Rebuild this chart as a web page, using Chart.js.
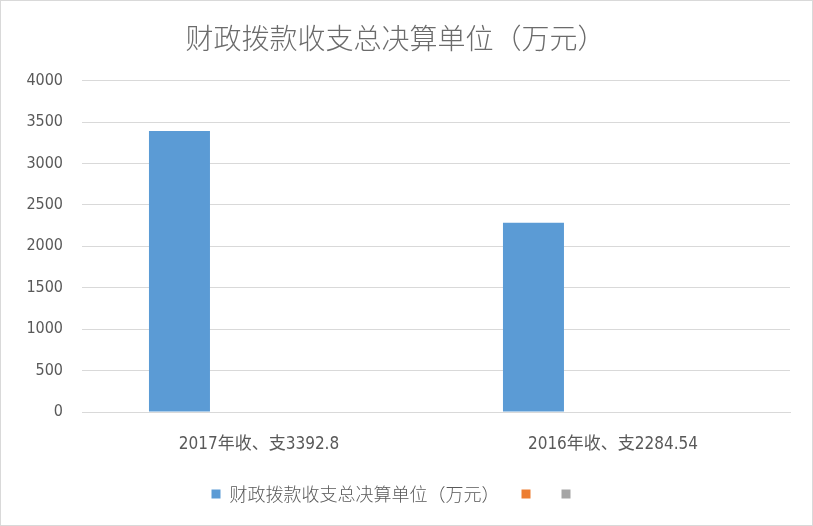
<!DOCTYPE html>
<html>
<head>
<meta charset="utf-8">
<script src="https://cdn.jsdelivr.net/npm/chart.js@4/dist/chart.umd.min.js"></script>
<style>
  html, body { margin: 0; padding: 0; background: #fff; }
  #wrap { width: 811px; height: 524px; border: 1px solid #d9d9d9; }
</style>
</head>
<body>
<div id="wrap"><canvas id="chart" width="811" height="524"></canvas></div>
<script>
// 数据
const categories = ['2017年收、支3392.8', '2016年收、支2284.54'];
const seriesNames = ['财政拨款收支总决算单位（万元）', '', ''];
const seriesMain = [3392.8, 2284.54];
const seriesTwo = [null, null];
const seriesThree = [null, null];
const colors = ['#5b9bd5', '#ed7d31', '#a5a5a5'];

const fontFam = "'DejaVu Sans Condensed', 'Noto Sans CJK SC', sans-serif";

new Chart(document.getElementById('chart'), {
    type: 'bar',
    data: {
        labels: categories,
        datasets: [seriesMain, seriesTwo, seriesThree].map((d, i) => ({
            label: seriesNames[i],
            data: d,
            backgroundColor: colors[i],
            barPercentage: 0.767,
            categoryPercentage: 0.674
        }))
    },
    options: {
        responsive: false,
        animation: false,
        layout: { padding: { left: 0, right: 22, top: 0, bottom: 12 } },
        scales: {
            x: {
                grid: { display: false },
                border: { color: '#d9d9d9' },
                ticks: { color: '#595959', font: { family: fontFam, size: 17 }, padding: 14 },
                afterFit: s => { s.height = 51; }
            },
            y: {
                min: 0,
                max: 4000,
                ticks: {
                    stepSize: 500,
                    color: '#595959',
                    font: { family: fontFam, size: 16 },
                    padding: 19,
                    callback: v => String(v)
                },
                grid: { color: '#d9d9d9', drawTicks: false },
                border: { display: false },
                afterFit: s => { s.width = 81; }
            }
        },
        plugins: {
            title: {
                display: true,
                text: '财政拨款收支总决算单位（万元）',
                color: '#6b6b6b',
                font: { family: "'Noto Sans CJK SC', sans-serif", size: 28, weight: 300 },
                padding: { top: 21, bottom: 25 }
            },
            legend: {
                position: 'bottom',
                labels: {
                    color: '#595959',
                    boxWidth: 9,
                    boxHeight: 9,
                    padding: 22,
                    font: { family: "'Noto Sans CJK SC', sans-serif", size: 18, weight: 300 }
                }
            },
            tooltip: { enabled: false }
        }
    }
});
</script>
</body>
</html>
